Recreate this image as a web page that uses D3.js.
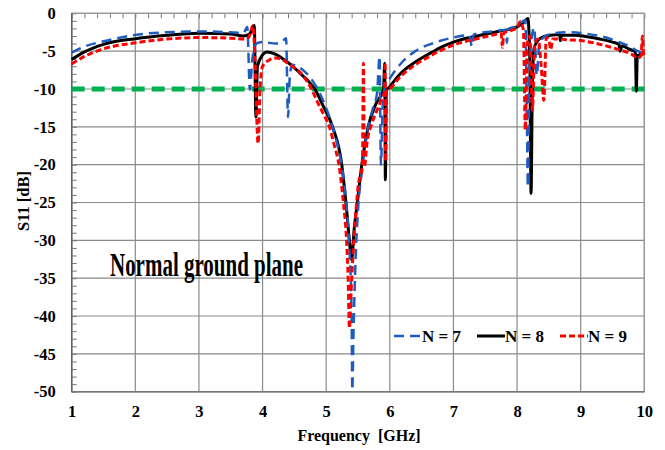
<!DOCTYPE html>
<html>
<head>
<meta charset="utf-8">
<script src="https://cdn.jsdelivr.net/npm/d3@7"></script>
<style>
  body { margin: 0; background: #fff; }
  text { font-family: "Liberation Serif", "Times New Roman", serif; font-weight: bold; }
</style>
</head>
<body>
<div id="chart"></div>
<script>
const globalWidth = 665;
const globalHeight = 450;

// [frequency GHz, S11 dB]
const n7Data = [[1.0,-5.2],[1.2,-4.4],[1.5,-3.7],[2.0,-2.85],[2.5,-2.5],[3.0,-2.4],[3.5,-2.5],[3.7,-2.6],[3.76,-1.8],[3.8,-10.1],[3.84,-6],[3.9,-4.0],[4.0,-3.8],[4.1,-3.9],[4.2,-4.0],[4.3,-3.8],[4.37,-3.3],[4.4,-13.7],[4.43,-8],[4.47,-6.8],[4.55,-7.0],[4.65,-7.6],[4.75,-8.5],[4.85,-9.8],[4.95,-11.5],[5.05,-13.7],[5.15,-16.5],[5.25,-20.5],[5.32,-25.5],[5.37,-32],[5.4,-40],[5.41,-49.8],[5.43,-42],[5.46,-33],[5.5,-26],[5.56,-21],[5.64,-16],[5.72,-13],[5.8,-10.5],[5.84,-5.7],[5.86,-20],[5.89,-12],[5.93,-9.5],[6.0,-8.6],[6.1,-7.4],[6.2,-6.4],[6.4,-5.0],[6.7,-3.9],[7.0,-3.2],[7.25,-2.9],[7.29,-4.4],[7.32,-2.8],[7.6,-2.4],[7.82,-2.2],[7.84,-3.9],[7.86,-2.1],[8.0,-1.7],[8.1,-1.0],[8.13,-0.9],[8.15,-10],[8.17,-22.9],[8.19,-10],[8.22,-4],[8.27,-1.9],[8.31,-8.2],[8.35,-4],[8.45,-3.0],[8.6,-2.6],[8.8,-2.5],[9.0,-2.6],[9.2,-2.85],[9.4,-3.2],[9.6,-3.8],[9.75,-4.3],[9.9,-5.0],[10.0,-5.3]];

const n8Data = [[1.0,-6.1],[1.2,-5.1],[1.5,-4.1],[2.0,-3.35],[2.5,-2.9],[3.0,-2.65],[3.5,-2.75],[3.7,-3.0],[3.8,-2.7],[3.87,-1.6],[3.895,-13.7],[3.92,-7],[4.0,-5.5],[4.07,-5.1],[4.2,-5.4],[4.3,-5.9],[4.4,-6.5],[4.5,-7.2],[4.6,-8.0],[4.7,-8.8],[4.82,-10],[4.95,-12.2],[5.1,-15],[5.245,-20],[5.31,-25],[5.365,-30],[5.4,-32.6],[5.44,-28.5],[5.49,-25],[5.56,-20],[5.66,-15],[5.78,-12],[5.9,-10.1],[5.92,-6.6],[5.93,-22],[5.945,-10.2],[6.0,-9.7],[6.1,-8.6],[6.2,-7.7],[6.37,-6.6],[6.5,-5.9],[6.63,-5.3],[6.8,-4.5],[7.0,-3.8],[7.2,-3.3],[7.42,-2.9],[7.7,-2.4],[8.0,-1.8],[8.1,-1.2],[8.17,-0.7],[8.2,-6],[8.22,-23.8],[8.24,-10],[8.27,-4.5],[8.35,-3.4],[8.45,-3.0],[8.6,-2.85],[8.67,-2.8],[8.68,-3.6],[8.7,-2.9],[8.9,-2.9],[9.1,-3.1],[9.3,-3.4],[9.5,-3.8],[9.6,-4.1],[9.62,-5.0],[9.65,-4.3],[9.75,-4.7],[9.86,-5.1],[9.875,-10.3],[9.89,-5.6],[9.95,-5.4],[10.0,-5.3]];

const n9Data = [[1.0,-6.7],[1.2,-5.7],[1.46,-4.8],[2.0,-3.9],[2.5,-3.4],[3.0,-3.2],[3.5,-3.3],[3.7,-3.4],[3.78,-3.2],[3.85,-1.6],[3.88,-6],[3.93,-17.2],[3.96,-10],[4.0,-7.0],[4.1,-6.2],[4.22,-5.9],[4.3,-6.1],[4.4,-6.6],[4.5,-7.2],[4.6,-7.9],[4.7,-9.0],[4.77,-10],[4.85,-11.5],[4.95,-13.2],[5.05,-15],[5.13,-17.5],[5.2,-20],[5.27,-25],[5.32,-30],[5.345,-35],[5.365,-41.6],[5.39,-37],[5.42,-32],[5.46,-27],[5.5,-23],[5.57,-20],[5.585,-6.6],[5.6,-20.3],[5.64,-17.2],[5.72,-14.5],[5.8,-12.8],[5.9,-10.8],[5.915,-10.5],[5.925,-6.5],[5.935,-19.5],[5.95,-10.2],[6.0,-10.0],[6.1,-9.0],[6.2,-8.1],[6.4,-6.8],[6.6,-5.8],[6.8,-4.9],[7.0,-4.2],[7.2,-3.7],[7.4,-3.3],[7.6,-2.9],[7.75,-2.7],[7.77,-4.5],[7.79,-2.6],[7.9,-2.3],[8.0,-1.9],[8.05,-1.1],[8.1,-2.2],[8.13,-15.4],[8.16,-4],[8.2,-3],[8.24,-12.8],[8.28,-4],[8.33,-3.4],[8.38,-7],[8.42,-11.5],[8.46,-3.2],[8.5,-3.5],[8.53,-4.8],[8.56,-3.4],[8.65,-3.4],[8.8,-3.5],[9.0,-3.6],[9.2,-3.9],[9.4,-4.3],[9.6,-4.8],[9.8,-5.4],[9.9,-5.9],[9.95,-5.6],[9.97,-3.0],[9.99,-5.5],[10.0,-5.8]];

const thresholdDb = -10;
const xTicks = [1, 2, 3, 4, 5, 6, 7, 8, 9, 10];
const yTicks = [0, -5, -10, -15, -20, -25, -30, -35, -40, -45, -50];
const seriesNames = ["N = 7", "N = 8", "N = 9"];

const blueColor = "#1f5cc0";
const blackColor = "#000000";
const redColor = "#ff0000";
const greenColor = "#00b050";

const svg = d3.select("#chart")
  .append("svg")
  .attr("width", globalWidth)
  .attr("height", globalHeight);

const x = d3.scaleLinear().domain([1, 10]).range([71.7, 644.3]);
const y = d3.scaleLinear().domain([-50, 0]).range([391.7, 13.3]);
const plotLeft = x.range()[0], plotRight = x.range()[1];
const plotTop = y.range()[1], plotBottom = y.range()[0];

// grid lines
const grid = svg.append("g");
grid.selectAll(".vg").data(xTicks).enter().append("line")
  .attr("x1", d => x(d)).attr("x2", d => x(d))
  .attr("y1", plotTop).attr("y2", plotBottom)
  .attr("stroke", "#8a8a8a").attr("stroke-width", 1.2);
grid.selectAll(".hg").data(yTicks).enter().append("line")
  .attr("x1", plotLeft).attr("x2", plotRight)
  .attr("y1", d => y(d)).attr("y2", d => y(d))
  .attr("stroke", "#8a8a8a").attr("stroke-width", 1.2);

// minor ticks, top edge every 0.2 GHz and left edge every 1 dB
svg.append("g")
  .attr("transform", "translate(0," + plotTop + ")")
  .call(d3.axisTop(x).tickValues(d3.range(1, 10.001, 0.2)).tickSize(-5).tickFormat(""))
  .call(g => g.select(".domain").remove())
  .selectAll("line").attr("stroke", "#777");
svg.append("g")
  .attr("transform", "translate(" + plotLeft + ",0)")
  .call(d3.axisLeft(y).tickValues(d3.range(-50, 0.001, 1)).tickSize(-5).tickFormat(""))
  .call(g => g.select(".domain").remove())
  .selectAll("line").attr("stroke", "#777");

// frame
svg.append("rect")
  .attr("x", plotLeft).attr("y", plotTop)
  .attr("width", plotRight - plotLeft).attr("height", plotBottom - plotTop)
  .attr("fill", "none").attr("stroke", "#999").attr("stroke-width", 1.2);
svg.append("line").attr("x1", plotLeft).attr("x2", plotLeft).attr("y1", plotTop).attr("y2", plotBottom)
  .attr("stroke", "#666").attr("stroke-width", 1.5);
svg.append("line").attr("x1", plotLeft).attr("x2", plotRight).attr("y1", plotBottom).attr("y2", plotBottom)
  .attr("stroke", "#777").attr("stroke-width", 1.5);

// tick labels
svg.append("g")
  .attr("transform", "translate(" + plotLeft + ",0)")
  .call(d3.axisLeft(y).tickValues(yTicks).tickSize(0).tickPadding(16).tickFormat(d => String(d)))
  .call(g => g.select(".domain").remove())
  .selectAll("text")
    .style("font-family", "Liberation Serif").style("font-weight", "bold")
    .style("font-size", "16.5px").attr("fill", "#000");

svg.append("g")
  .attr("transform", "translate(0," + plotBottom + ")")
  .call(d3.axisBottom(x).tickValues(xTicks).tickSize(0).tickPadding(14).tickFormat(d => String(d)))
  .call(g => g.select(".domain").remove())
  .selectAll("text")
    .style("font-family", "Liberation Serif").style("font-weight", "bold")
    .style("font-size", "16.5px").attr("fill", "#000");

// axis titles (two spaces before the bracket, like the original)
svg.append("text")
  .attr("x", 359).attr("y", 441)
  .attr("text-anchor", "middle")
  .style("font-size", "16px")
  .style("white-space", "pre")
  .text("Frequency  [GHz]");

svg.append("text")
  .attr("transform", "translate(29,201) rotate(-90)")
  .attr("text-anchor", "middle")
  .style("font-size", "16.5px")
  .text("S11 [dB]");

// -10 dB reference
svg.append("line")
  .attr("x1", x(1)).attr("x2", x(10))
  .attr("y1", y(thresholdDb)).attr("y2", y(thresholdDb))
  .attr("stroke", greenColor).attr("stroke-width", 5)
  .attr("stroke-dasharray", "13,7");

const line = d3.line()
  .x(d => x(d[0]))
  .y(d => y(d[1]))
  .curve(d3.curveMonotoneX);

svg.append("path").datum(n8Data)
  .attr("d", line).attr("fill", "none")
  .attr("stroke", blackColor).attr("stroke-width", 3);
svg.append("path").datum(n7Data)
  .attr("d", line).attr("fill", "none")
  .attr("stroke", blueColor).attr("stroke-width", 2.5)
  .attr("stroke-dasharray", "10,6");
svg.append("path").datum(n9Data)
  .attr("d", line).attr("fill", "none")
  .attr("stroke", redColor).attr("stroke-width", 3)
  .attr("stroke-dasharray", "6,3");

// annotation
svg.append("text")
  .attr("x", 110).attr("y", 276)
  .attr("textLength", 193).attr("lengthAdjust", "spacingAndGlyphs")
  .style("font-size", "33px")
  .text("Normal ground plane");

// legend
const legendItems = [
  { name: seriesNames[0], color: blueColor, dash: "10,6", width: 2.5, x0: 394 },
  { name: seriesNames[1], color: blackColor, dash: null, width: 3, x0: 477 },
  { name: seriesNames[2], color: redColor, dash: "6,3", width: 3, x0: 560 }
];
const legend = svg.append("g");
legendItems.forEach(function(item) {
  legend.append("line")
    .attr("x1", item.x0).attr("x2", item.x0 + 28)
    .attr("y1", 336).attr("y2", 336)
    .attr("stroke", item.color).attr("stroke-width", item.width)
    .attr("stroke-dasharray", item.dash);
  legend.append("text")
    .attr("x", item.x0 + 28).attr("y", 342)
    .style("font-size", "17px")
    .style("white-space", "pre")
    .text(item.name);
});
</script>
</body>
</html>
